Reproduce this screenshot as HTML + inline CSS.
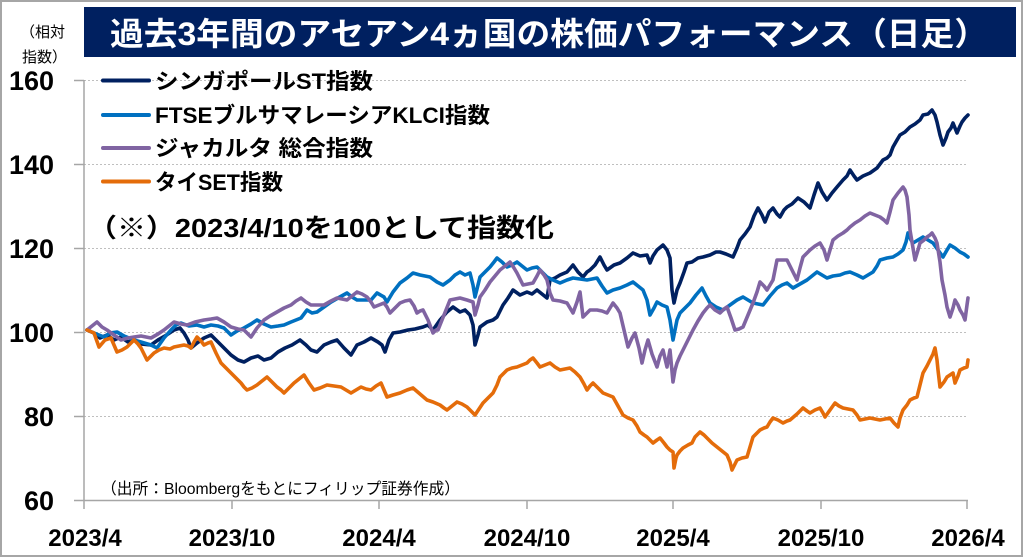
<!DOCTYPE html>
<html>
<head>
<meta charset="utf-8">
<style>
html,body{margin:0;padding:0;background:#fff;}
svg{display:block;}
text{font-family:"Liberation Sans","Noto Sans CJK JP",sans-serif;}
</style>
</head>
<body>
<svg width="1024" height="558" viewBox="0 0 1024 558" xmlns="http://www.w3.org/2000/svg">
<rect x="0" y="0" width="1024" height="558" fill="#fff"/>
<rect x="1" y="1" width="1021" height="555" fill="none" stroke="#a6a6a6" stroke-width="2"/>

<!-- title -->
<rect x="84" y="7" width="932" height="50" fill="#002060"/>
<text x="110" y="45" font-size="32" font-weight="bold" fill="#fff" textLength="878" lengthAdjust="spacingAndGlyphs">過去3年間のアセアン4ヵ国の株価パフォーマンス（日足）</text>

<!-- y unit -->
<text x="20" y="37" font-size="15" fill="#000">（相対</text>
<text x="22" y="62" font-size="15" fill="#000">指数）</text>

<!-- gridlines -->
<g stroke="#bfbfbf" stroke-width="1" stroke-dasharray="2,2">
<line x1="84" y1="80.5" x2="968" y2="80.5"/>
<line x1="84" y1="164.5" x2="968" y2="164.5"/>
<line x1="84" y1="248.5" x2="968" y2="248.5"/>
<line x1="84" y1="332.5" x2="968" y2="332.5"/>
<line x1="84" y1="416.5" x2="968" y2="416.5"/>
</g>
<!-- axes -->
<g stroke="#a6a6a6" stroke-width="1.5">
<line x1="84" y1="80" x2="84" y2="500"/>
<line x1="74" y1="80.5" x2="84" y2="80.5"/>
<line x1="74" y1="164.5" x2="84" y2="164.5"/>
<line x1="74" y1="248.5" x2="84" y2="248.5"/>
<line x1="74" y1="332.5" x2="84" y2="332.5"/>
<line x1="74" y1="416.5" x2="84" y2="416.5"/>
<line x1="74" y1="500.5" x2="968" y2="500.5"/>
<line x1="84" y1="500" x2="84" y2="509"/>
<line x1="232" y1="500" x2="232" y2="509"/>
<line x1="379" y1="500" x2="379" y2="509"/>
<line x1="527" y1="500" x2="527" y2="509"/>
<line x1="673" y1="500" x2="673" y2="509"/>
<line x1="821" y1="500" x2="821" y2="509"/>
<line x1="967" y1="500" x2="967" y2="509"/>
</g>

<!-- y labels -->
<g font-size="27" font-weight="bold" fill="#000" text-anchor="end">
<text x="54" y="90">160</text>
<text x="54" y="174">140</text>
<text x="54" y="258">120</text>
<text x="54" y="342">100</text>
<text x="54" y="426">80</text>
<text x="54" y="510">60</text>
</g>
<!-- x labels -->
<g font-size="24" font-weight="bold" fill="#000" text-anchor="middle">
<text x="85" y="546">2023/4</text>
<text x="232" y="546">2023/10</text>
<text x="379" y="546">2024/4</text>
<text x="527" y="546">2024/10</text>
<text x="673" y="546">2025/4</text>
<text x="821" y="546">2025/10</text>
<text x="968" y="546">2026/4</text>
</g>

<!-- series -->
<g fill="none" stroke-width="3.6" stroke-linejoin="round" stroke-linecap="round">
<polyline stroke="#002060" points="87,330 94,333 100,338 107,335 114,340 121,337 128,342 134,340 141,344 151,345 158,340 165,336 174,330 180,328 184,333 188,340 191,348 197,343 204,338 211,335 218,342 224,348 231,355 238,360 244,362 251,358 258,356 264,360 271,358 278,352 285,348 292,345 300,340 306,345 311,350 317,352 324,345 331,342 337,340 344,348 351,355 357,345 364,342 371,338 378,342 382,345 385,352 389,340 393,333 400,332 408,330 415,329 423,327 428,325 433,330 440,320 447,312 453,307 460,312 465,310 470,315 473,325 475,345 478,335 480,327 487,322 493,320 497,317 503,305 508,298 513,290 520,295 527,292 532,294 537,290 542,294 547,298 550,280 555,278 560,275 567,272 573,265 578,272 583,277 587,272 590,270 595,265 600,257 604,265 607,270 614,265 620,263 627,258 633,253 640,256 647,255 650,263 653,256 657,250 663,245 667,250 670,258 672,290 674,303 677,290 680,283 684,272 687,263 692,262 698,258 703,257 710,255 716,252 720,252 726,254 733,257 737,248 740,240 745,234 750,227 754,216 758,208 762,215 765,222 769,212 773,208 777,214 780,217 784,210 787,207 792,204 798,198 804,202 810,208 814,195 818,183 822,192 827,200 832,193 837,187 843,180 847,176 850,170 854,176 857,180 863,176 870,173 877,168 883,160 887,158 890,155 893,147 897,140 900,135 905,132 910,127 915,124 920,120 923,115 928,114 932,110 935,115 937,122 940,135 943,145 946,138 948,132 951,128 953,123 957,133 960,126 962,122 965,118 968,115"/>
<polyline stroke="#0070c0" points="87,330 94,333 104,337 110,333 117,332 124,336 134,340 141,342 151,345 157,348 164,338 171,330 176,325 181,323 189,326 197,325 204,327 211,325 218,326 224,328 231,335 237,331 244,328 251,324 257,320 264,324 271,327 278,326 284,325 291,322 301,318 307,310 312,313 317,312 324,307 331,302 338,298 347,293 352,297 357,300 364,300 371,300 377,293 384,297 387,302 393,292 400,283 407,278 413,273 420,275 430,277 437,282 443,285 450,280 455,275 460,272 465,275 470,273 473,285 475,297 478,285 480,277 485,272 490,267 494,262 497,258 502,262 507,267 512,265 517,262 522,266 527,270 532,268 537,267 542,272 547,277 553,280 560,283 567,280 573,278 580,279 587,280 592,279 597,278 602,286 607,293 613,290 620,288 627,285 633,282 638,286 643,290 647,300 650,315 654,308 657,302 662,305 667,307 670,320 673,340 675,330 677,320 680,313 685,308 690,303 696,295 702,288 706,296 710,303 716,307 723,310 730,305 737,300 743,297 748,300 753,303 758,304 763,305 770,296 777,288 782,285 787,283 793,288 800,284 807,280 812,276 817,272 822,275 827,278 833,276 840,275 845,273 850,272 857,275 863,278 868,275 873,272 877,266 880,260 887,258 893,257 898,254 903,250 906,242 908,233 911,240 913,243 918,240 923,237 928,240 933,243 938,250 943,257 947,250 950,245 955,248 960,252 964,254 968,257"/>
<polyline stroke="#8064a2" points="87,330 92,326 97,322 102,327 107,330 114,335 121,340 128,338 134,337 141,336 151,338 158,334 164,330 169,326 174,322 181,324 187,325 195,322 204,320 211,319 217,318 224,322 231,327 238,329 244,330 248,334 251,337 257,328 264,320 270,316 277,312 284,308 291,305 296,301 301,298 306,302 311,305 318,305 324,305 331,301 337,298 342,299 347,300 352,296 357,292 362,294 367,297 371,302 374,307 379,305 384,303 387,307 390,313 395,308 400,303 405,301 410,300 414,306 417,313 420,311 423,310 428,320 433,333 436,330 438,330 444,315 450,300 455,299 460,298 467,300 473,302 475,315 478,305 480,297 485,290 490,282 495,276 500,270 505,266 510,262 514,268 517,273 520,279 523,285 528,284 533,283 537,276 540,270 544,275 547,280 550,293 553,300 560,301 567,303 570,308 573,313 577,302 580,292 583,317 587,313 590,310 597,310 602,311 607,313 610,308 613,303 617,308 620,313 624,330 628,347 632,338 635,333 639,348 642,363 645,350 648,340 652,354 657,367 660,356 663,350 667,367 670,350 673,382 675,370 677,363 680,356 683,350 688,340 693,330 698,321 703,313 707,308 710,305 715,310 720,313 724,309 727,307 731,318 735,330 739,329 743,327 748,315 753,303 757,292 760,282 764,286 767,290 770,285 773,280 775,270 777,260 782,260 787,260 790,266 793,272 797,280 800,268 803,257 807,253 810,250 815,246 820,243 824,250 827,260 830,250 833,240 838,236 843,233 847,230 850,227 855,223 860,220 865,216 870,213 875,215 880,217 884,220 887,223 890,212 893,200 898,193 903,187 905,190 907,197 909,215 910,230 913,248 915,260 918,250 920,243 924,240 927,237 930,235 932,233 935,238 937,243 940,262 942,280 945,295 947,307 950,317 953,308 955,300 958,305 960,310 963,315 965,320 967,305 968,298"/>
<polyline stroke="#e46c0a" points="87,330 94,333 99,347 105,340 111,338 114,345 117,352 122,350 127,347 131,343 134,340 138,344 141,348 144,354 147,360 151,356 154,353 159,350 164,348 170,349 174,347 179,346 184,345 188,346 191,348 194,342 197,337 201,341 204,345 208,343 211,342 216,353 221,363 226,368 231,373 236,378 241,383 244,387 247,390 252,388 257,385 262,381 267,377 272,382 277,387 281,390 284,393 289,388 294,383 299,379 304,375 309,383 314,390 320,388 327,385 334,386 341,387 346,390 351,393 356,390 361,387 366,389 371,390 376,386 381,383 384,390 387,397 393,395 400,393 407,390 413,388 420,394 427,400 433,402 440,405 444,408 447,410 452,406 457,402 462,404 467,407 471,411 475,415 479,409 483,403 488,398 493,393 497,385 500,377 504,373 507,370 512,368 517,367 522,365 527,363 530,360 533,358 537,363 540,367 545,365 550,363 555,367 560,370 565,369 570,368 575,372 580,377 584,384 587,390 590,386 593,383 598,388 603,393 608,395 613,397 618,406 623,415 628,418 633,420 637,426 640,432 644,435 647,437 650,440 653,443 657,440 660,438 664,443 667,447 670,450 673,452 674,468 676,458 677,455 680,451 683,448 688,445 692,443 695,437 700,432 704,435 707,438 712,443 717,447 722,451 727,455 730,462 732,470 735,464 737,460 742,458 747,457 750,447 753,437 757,433 760,430 764,428 767,427 770,422 773,418 778,420 783,423 787,421 790,420 797,414 803,408 807,411 810,413 815,410 820,408 823,413 825,417 830,410 835,403 839,406 843,408 848,409 853,410 857,415 860,420 865,419 870,418 875,419 880,420 885,419 890,418 894,423 898,427 900,418 903,410 907,405 910,400 914,398 917,397 920,385 923,373 927,366 930,360 933,354 935,348 937,360 938,370 940,387 944,382 947,377 950,375 953,373 955,383 958,376 960,370 964,368 967,367 968,360"/>
</g>

<!-- legend -->
<g stroke-width="4" stroke-linecap="round">
<line x1="103" y1="80.5" x2="149" y2="80.5" stroke="#002060"/>
<line x1="103" y1="115" x2="149" y2="115" stroke="#0070c0"/>
<line x1="103" y1="148" x2="149" y2="148" stroke="#8064a2"/>
<line x1="103" y1="181.5" x2="149" y2="181.5" stroke="#e46c0a"/>
</g>
<g font-size="22" font-weight="bold" fill="#000">
<text x="155" y="89" textLength="218" lengthAdjust="spacingAndGlyphs">シンガポールST指数</text>
<text x="155" y="123" textLength="335" lengthAdjust="spacingAndGlyphs">FTSEブルサマレーシアKLCI指数</text>
<text x="155" y="156" textLength="218" lengthAdjust="spacingAndGlyphs">ジャカルタ 総合指数</text>
<text x="155" y="190" textLength="128" lengthAdjust="spacingAndGlyphs">タイSET指数</text>
</g>

<!-- annotation -->
<text x="88" y="237" font-size="26" font-weight="bold" fill="#000" textLength="466" lengthAdjust="spacingAndGlyphs">（※）2023/4/10を100として指数化</text>

<!-- source -->
<text x="101" y="494" font-size="16" fill="#000" textLength="359" lengthAdjust="spacingAndGlyphs">（出所：Bloombergをもとにフィリップ証券作成）</text>
</svg>
</body>
</html>
